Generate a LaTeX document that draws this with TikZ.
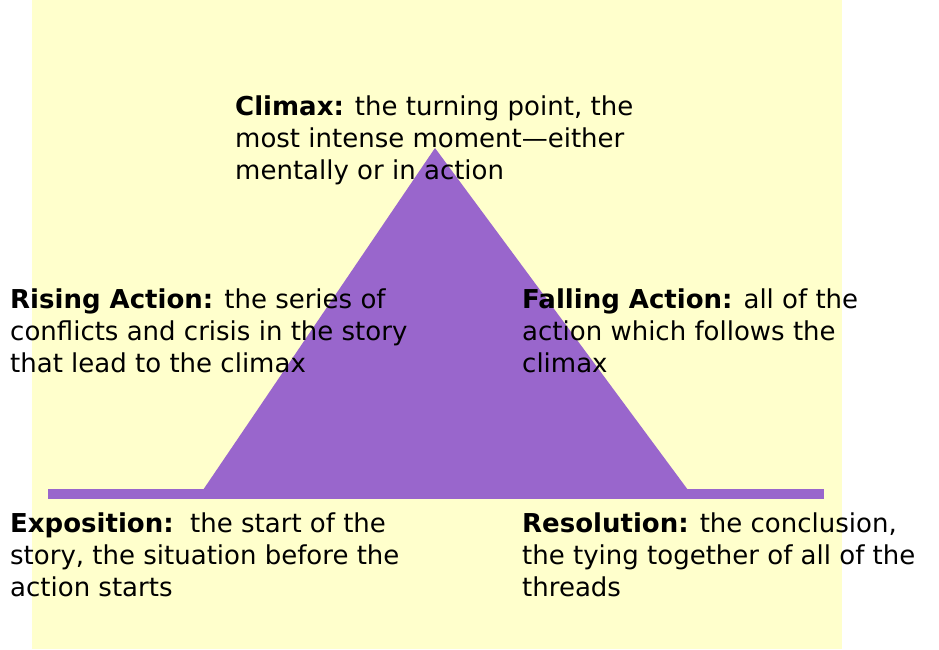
\documentclass[tikz,border=0pt]{standalone}
\usepackage{fontspec}
\setmainfont{DejaVu Sans}
\usetikzlibrary{positioning}
\definecolor{paleyellow}{HTML}{FFFFCC}
\definecolor{plotpurple}{HTML}{9966CC}
\begin{document}
\begin{tikzpicture}[x=1pt,y=-1pt,
        every node/.style={anchor=north west, inner sep=0pt, align=left,
          font=\fontsize{26}{32}\selectfont}
    ]
    % Frame and background
    \useasboundingbox (0,0) rectangle (939,649);
    \fill[paleyellow] (32,0) rectangle (842,649);

    % Plot line
    \fill[plotpurple] (48,489) rectangle (824,499);
    \fill[plotpurple] (203,490) -- (435,148) -- (688,490) -- cycle;

    % Labels
    \node (climax) at (235,96) {\textbf{Climax:} the turning point, the\\
        most intense moment---either\\mentally or in action};
    \node (rising) at (10,289) {\textbf{Rising Action:} the series of\\
        conflicts and crisis in the story\\that lead to the climax};
    \node (falling) at (522,289) {\textbf{Falling Action:} all of the\\
        action which follows the\\climax};
    \node (expo) at (10,513) {\textbf{Exposition:}\ \ the start of the\\
        story, the situation before the\\action starts};
    \node (resol) at (522,513) {\textbf{Resolution:} the conclusion,\\
        the tying together of all of the\\threads};
\end{tikzpicture}
\end{document}
